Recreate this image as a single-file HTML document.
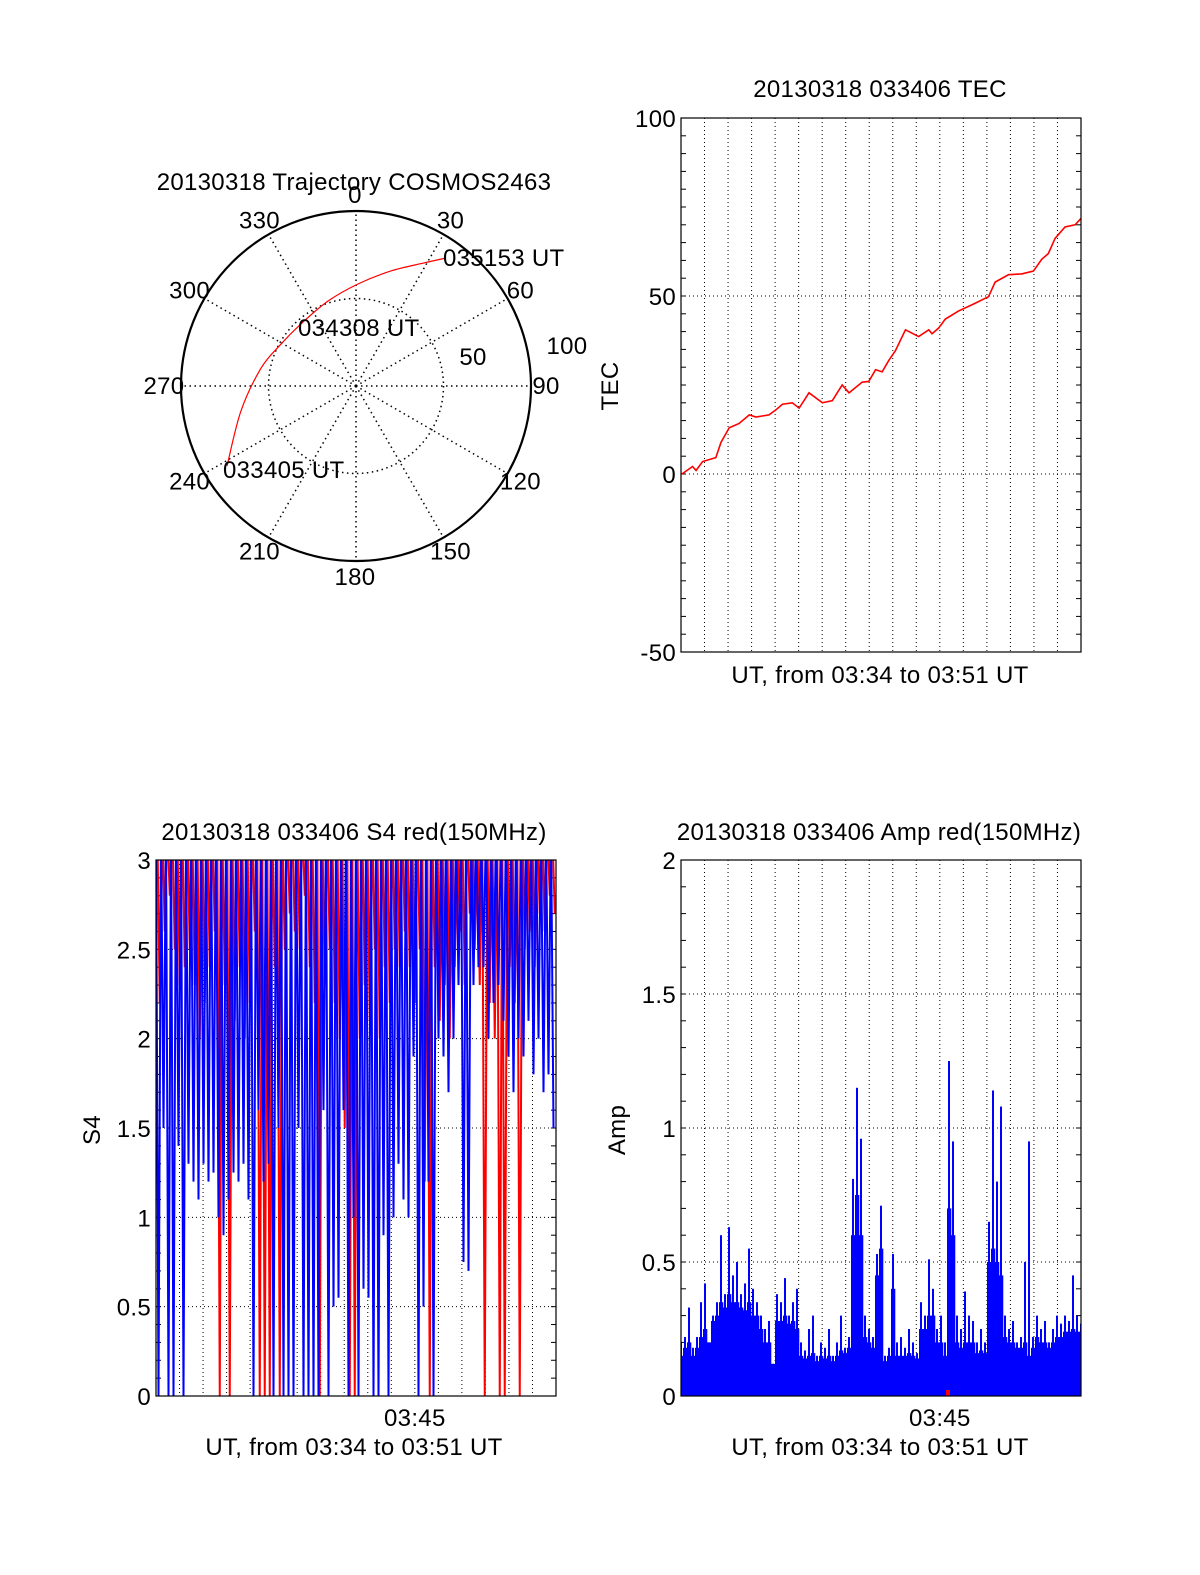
<!DOCTYPE html>
<html><head><meta charset="utf-8"><style>
html,body{margin:0;padding:0;background:#fff;}
svg{display:block;font-family:"Liberation Sans",Arial,sans-serif;}
text{fill:#000;font-size:24px;letter-spacing:0.3px;}
</style></head><body>
<svg id="fig" width="1200" height="1575" viewBox="0 0 1200 1575" xmlns="http://www.w3.org/2000/svg">
<defs>
<clipPath id="c-s4"><rect x="156" y="860" width="400" height="536"/></clipPath>
<clipPath id="c-amp"><rect x="681" y="860" width="400" height="536"/></clipPath>
<clipPath id="c-tec"><rect x="681" y="118" width="400" height="534"/></clipPath>
</defs>
<g id="polar"></g>
<g id="tec"></g>
<g id="s4"></g>
<g id="amp"></g>
</svg>
<script>
// ---------- data ----------
const trajAz = [238.2, 257.7, 280.7, 299.2, 318.4, 341.8, 1.1, 16.9, 28.9, 35.1];
const trajR  = [86.7, 67.3, 55.2, 49.1, 47.4, 51.1, 58.3, 68.7, 80.3, 89.4];
const azLabels = ["0","30","60","90","120","150","180","210","240","270","300","330"];

const tecTime = [0.04,0.49,0.64,0.92,1.48,1.70,2.05,2.47,2.90,3.18,3.74,4.03,4.31,4.73,5.02,5.44,6.01,6.43,6.85,7.14,7.70,7.98,8.27,8.55,8.83,9.11,9.54,10.10,10.53,10.67,10.95,11.23,11.80,12.36,13.07,13.35,13.92,14.48,14.98,15.33,15.61,15.90,16.32,16.75,17.0];
const tecVal  = [0,2.1,1,3.5,4.6,8.9,13,14.2,16.6,16,16.6,18,19.6,20,18.5,22.8,20,20.6,25,22.8,25.8,26,29.3,28.7,31.9,34.6,40.5,38.6,40.5,39.4,41,43.5,45.8,47.5,49.8,53.9,56,56.2,57,60.3,61.9,66.2,69.4,70,71.8];
const tecTicks = [-50, 0, 50, 100];

const s4Blue = [
3.2,0, 3.2,1.5, 3.2,0, 3.2,0, 3.2,1.4, 3.2,0, 3.2,1.3, 3.2,1.2, 3.2,1.1, 3.2,1.3,
3.2,1.2, 3.2,1.25, 3.2,1.0, 3.2,0.9, 3.2,1.1, 3.2,1.25, 3.2,1.2, 3.2,1.3, 3.2,1.1, 3.2,0,
3.2,1.6, 3.2,1.2, 3.2,1.3, 3.2,0, 3.2,1.5, 3.2,0, 3.2,0, 3.2,0, 3.2,1.5, 3.2,0,
3.2,0, 3.2,0, 3.2,0, 3.2,1.6, 3.2,0, 3.2,0.5, 3.2,0.55, 3.2,1.6, 3.2,0, 3.2,1.0,
3.2,0, 3.2,0.6, 3.2,0.55, 3.2,0, 3.2,0, 3.2,0.9, 3.2,0, 3.2,1.0, 3.2,1.3, 3.2,1.1,
3.2,1.0, 3.2,1.9, 3.2,0, 3.2,0.5, 3.2,1.2, 3.2,0, 3.2,2.0, 3.2,1.9, 3.2,1.7, 3.2,2.0,
3.2,2.3, 3.2,0.75, 3.2,0.7, 3.2,2.3, 3.2,2.4, 3.2,2.4, 3.2,2.0, 3.2,2.2, 3.2,2.3, 3.2,2.1,
3.2,1.9, 3.2,1.7, 3.2,2.0, 3.2,1.9, 3.2,2.1, 3.2,1.8, 3.2,2.0, 3.2,1.7, 3.2,1.8, 3.2,1.5];
const s4Red = [
3.2,2.2, 3.2,2.6, 3.2,2.8, 3.2,2.5, 3.2,2.3, 3.2,2.4, 3.2,2.5, 3.2,2.3, 3.2,2.0, 3.2,2.2,
3.2,2.4, 3.2,2.6, 3.2,0, 3.2,2.3, 3.2,0, 3.2,2.1, 3.2,2.4, 3.2,2.0, 3.2,2.2, 3.2,2.6,
3.2,0, 3.2,0, 3.2,0, 3.2,2.4, 3.2,0, 3.2,2.5, 3.2,2.7, 3.2,2.6, 3.2,2.5, 3.2,2.8,
3.2,2.4, 3.2,2.2, 3.2,0, 3.2,2.3, 3.2,2.5, 3.2,2.2, 3.2,2.0, 3.2,1.5, 3.2,0, 3.2,0,
3.2,2.0, 3.2,2.3, 3.2,2.1, 3.2,2.5, 3.2,2.0, 3.2,2.4, 3.2,2.2, 3.2,2.5, 3.2,2.4, 3.2,2.6,
3.2,2.4, 3.2,2.2, 3.2,2.5, 3.2,1.2, 3.2,0, 3.2,2.4, 3.2,2.1, 3.2,2.3, 3.2,2.0, 3.2,2.4,
3.2,2.6, 3.2,2.3, 3.2,2.7, 3.2,2.5, 3.2,2.3, 3.2,0, 3.2,2.2, 3.2,2.0, 3.2,0, 3.2,0,
3.2,2.4, 3.2,2.2, 3.2,0, 3.2,2.5, 3.2,2.6, 3.2,2.4, 3.2,2.7, 3.2,2.6, 3.2,2.8, 3.2,2.7];
const s4Ticks = [0, 0.5, 1, 1.5, 2, 2.5, 3];

const ampVal = [0.2,0.22,0.33,0.18,0.22,0.35,0.42,0.2,0.3,0.35,0.6,0.38,0.63,0.45,0.5,0.38,0.42,0.55,0.4,0.35,
0.3,0.25,0.28,0.12,0.38,0.35,0.44,0.3,0.35,0.4,0.2,0.17,0.25,0.3,0.15,0.2,0.18,0.25,0.15,0.2,
0.3,0.18,0.22,0.81,1.15,0.96,0.3,0.25,0.22,0.53,0.71,0.15,0.18,0.53,0.2,0.22,0.18,0.25,0.2,0.16,
0.35,0.3,0.51,0.4,0.25,0.3,0.2,1.25,0.95,0.3,0.25,0.39,0.3,0.28,0.2,0.25,0.2,0.65,1.14,0.8,
1.08,0.3,0.25,0.28,0.2,0.22,0.5,0.95,0.22,0.3,0.25,0.28,0.2,0.25,0.3,0.27,0.3,0.28,0.45,0.3,0.27];
const ampBase = [0.15,0.18,0.2,0.15,0.18,0.22,0.25,0.2,0.28,0.3,0.35,0.33,0.38,0.35,0.35,0.33,0.32,0.35,0.3,0.3,
0.25,0.2,0.2,0.12,0.28,0.28,0.3,0.27,0.28,0.25,0.15,0.14,0.15,0.16,0.13,0.15,0.14,0.15,0.13,0.15,
0.17,0.16,0.18,0.6,0.75,0.6,0.22,0.2,0.18,0.45,0.55,0.13,0.15,0.4,0.15,0.15,0.15,0.16,0.15,0.14,
0.25,0.25,0.3,0.3,0.2,0.2,0.15,0.7,0.6,0.2,0.18,0.2,0.2,0.2,0.16,0.17,0.16,0.5,0.55,0.5,
0.45,0.22,0.2,0.2,0.18,0.18,0.2,0.15,0.18,0.22,0.2,0.2,0.18,0.2,0.22,0.22,0.24,0.24,0.25,0.24,0.24];
const ampTicks = [0, 0.5, 1, 1.5, 2];
const minutes = [1,2,3,4,5,6,7,8,9,10,11,12,13,14,15,16];

// ---------- helpers ----------
const NS = "http://www.w3.org/2000/svg";
function el(parent, tag, attrs, txt) {
  const e = document.createElementNS(NS, tag);
  for (const k in attrs) e.setAttribute(k, attrs[k]);
  if (txt !== undefined) e.textContent = txt;
  parent.appendChild(e);
  return e;
}
const TMAX = 17;

function frame(g, x0, y0, w, h, ymin, ymax, ticks, gridYs, minorStep) {
  const sy = v => y0 + h - (v - ymin) / (ymax - ymin) * h;
  const sx = t => x0 + t / TMAX * w;
  minutes.forEach(m => {
    const gl = el(g, "line", {x1: sx(m), x2: sx(m), y1: y0, y2: y0 + h, stroke: "#000", "stroke-width": 1, "stroke-dasharray": "1,3"});
    
    
  });
  gridYs.forEach(v => {
    const gl = el(g, "line", {x1: x0, x2: x0 + w, y1: sy(v), y2: sy(v), stroke: "#000", "stroke-width": 1, "stroke-dasharray": "1,3"});
    
    
  });
  const n = Math.round((ymax - ymin) / minorStep);
  for (let i = 1; i < n; i++) {
    const v = ymin + i * minorStep, y = sy(v);
    const t1 = el(g, "line", {x1: x0, x2: x0 + 5, y1: y, y2: y, stroke: "#000", "stroke-width": 1});
    
    
    const t2 = el(g, "line", {x1: x0 + w - 5, x2: x0 + w, y1: y, y2: y, stroke: "#000", "stroke-width": 1});
    
    
  }
  ticks.forEach(v => {
    const lb = el(g, "text", {x: x0 - 5, y: sy(v) + 9, "text-anchor": "end"}, String(v));
    
    
  });
  return {sx, sy};
}
function border(g, x0, y0, w, h) {
  const b = el(g, "rect", {x: x0, y: y0, width: w, height: h, fill: "none", stroke: "#000", "stroke-width": 1.2});
  
  
}

// ---------- polar ----------
(function () {
  const g = document.getElementById("polar");
  const cx = 356, cy = 386, R = 175;
  const t = el(g, "text", {x: 354, y: 190, "text-anchor": "middle"}, "20130318 Trajectory COSMOS2463");
  
  
  for (let a = 0; a < 360; a += 30) {
    const r = a * Math.PI / 180;
    const sp = el(g, "line", {x1: cx, y1: cy, x2: cx + R * Math.sin(r), y2: cy - R * Math.cos(r), stroke: "#000", "stroke-width": 1.5, "stroke-dasharray": "1.5,3.5"});
    
    
  }
  const ic = el(g, "circle", {cx, cy, r: R * 0.5, fill: "none", stroke: "#000", "stroke-width": 1.5, "stroke-dasharray": "1.5,3.5"});
  
  
  const oc = el(g, "circle", {cx, cy, r: R, fill: "none", stroke: "#000", "stroke-width": 2.2});
  
  
  const rr = R + 16;
  azLabels.forEach((lab, i) => {
    const a = i * 30 * Math.PI / 180;
    const tx = el(g, "text", {x: cx + rr * Math.sin(a) - 1, y: cy - rr * Math.cos(a) + 8, "text-anchor": "middle"}, lab);
    
    
  });
  const l100 = el(g, "text", {x: 567, y: 354, "text-anchor": "middle"}, "100");
  
  
  const l50 = el(g, "text", {x: 473, y: 365, "text-anchor": "middle"}, "50");
  
  
  const pts = trajAz.map((az, i) => {
    const a = az * Math.PI / 180, r = trajR[i] / 100 * R;
    return [cx + r * Math.sin(a), cy - r * Math.cos(a)];
  });
  let d = "M" + pts[0][0] + "," + pts[0][1];
  for (let i = 1; i < pts.length; i++) {
    const p0 = pts[Math.max(0, i - 2)], p1 = pts[i - 1], p2 = pts[i], p3 = pts[Math.min(pts.length - 1, i + 1)];
    const c1 = [p1[0] + (p2[0] - p0[0]) / 6, p1[1] + (p2[1] - p0[1]) / 6];
    const c2 = [p2[0] - (p3[0] - p1[0]) / 6, p2[1] - (p3[1] - p1[1]) / 6];
    d += " C" + c1 + " " + c2 + " " + p2;
  }
  const tr = el(g, "path", {d, fill: "none", stroke: "#f00", "stroke-width": 1.2});
  
  
  [["035153 UT", 443, 266], ["034308 UT", 298, 336], ["033405 UT", 223, 478]].forEach(a => {
    const tx = el(g, "text", {x: a[1], y: a[2]}, a[0]);
    
    
  });
})();

// ---------- TEC ----------
(function () {
  const g = document.getElementById("tec");
  const x0 = 681, y0 = 118, w = 400, h = 534;
  const t = el(g, "text", {x: 880, y: 97, "text-anchor": "middle"}, "20130318 033406 TEC");
  
  
  const {sx, sy} = frame(g, x0, y0, w, h, -50, 100, tecTicks, [0, 50], 5);
  const pts = tecTime.map((tm, i) => sx(tm) + "," + sy(tecVal[i])).join(" ");
  const ln = el(g, "polyline", {points: pts, fill: "none", stroke: "#f00", "stroke-width": 1.6, "clip-path": "url(#c-tec)"});
  
  
  border(g, x0, y0, w, h);
  const yl = el(g, "text", {x: 0, y: 0, transform: "translate(618,386) rotate(-90)", "text-anchor": "middle"}, "TEC");
  
  
  const xl = el(g, "text", {x: 880, y: 683, "text-anchor": "middle"}, "UT, from 03:34 to 03:51 UT");
  
  
})();

// ---------- S4 ----------
(function () {
  const g = document.getElementById("s4");
  const x0 = 156, y0 = 860, w = 400, h = 536;
  const t = el(g, "text", {x: 354, y: 840, "text-anchor": "middle"}, "20130318 033406 S4 red(150MHz)");
  
  
  const {sx, sy} = frame(g, x0, y0, w, h, 0, 3, s4Ticks, [0.5, 1, 1.5, 2, 2.5], 0.1);
  const n = s4Red.length;
  const rp = s4Red.map((v, i) => sx((i + 0.5) / n * TMAX) + "," + sy(v)).join(" ");
  const rl = el(g, "polyline", {points: rp, fill: "none", stroke: "#f00", "stroke-width": 2, "clip-path": "url(#c-s4)"});
  
  
  const bp = s4Blue.map((v, i) => sx(i / s4Blue.length * TMAX) + "," + sy(v)).join(" ");
  const bl = el(g, "polyline", {points: bp, fill: "none", stroke: "#00f", "stroke-width": 2, "clip-path": "url(#c-s4)"});
  
  
  border(g, x0, y0, w, h);
  const yl = el(g, "text", {x: 0, y: 0, transform: "translate(100,1130) rotate(-90)", "text-anchor": "middle"}, "S4");
  
  
  const xt = el(g, "text", {x: sx(11), y: 1426, "text-anchor": "middle"}, "03:45");
  
  
  const xl = el(g, "text", {x: 354, y: 1455, "text-anchor": "middle"}, "UT, from 03:34 to 03:51 UT");
  
  
})();

// ---------- Amp ----------
(function () {
  const g = document.getElementById("amp");
  const x0 = 681, y0 = 860, w = 400, h = 536;
  const t = el(g, "text", {x: 879, y: 840, "text-anchor": "middle"}, "20130318 033406 Amp red(150MHz)");
  
  
  const {sx, sy} = frame(g, x0, y0, w, h, 0, 2, ampTicks, [0.5, 1, 1.5], 0.1);
  const n = ampVal.length;
  const bw = w / (n - 1);
  ampBase.forEach((v, i) => {
    const x = sx(i / (n - 1) * TMAX);
    const b = el(g, "rect", {x: x - bw / 2, y: sy(v), width: bw + 0.3, height: sy(0) - sy(v), fill: "#00f", "clip-path": "url(#c-amp)"});
    
    
  });
  ampVal.forEach((v, i) => {
    const x = sx(i / (n - 1) * TMAX);
    const b = el(g, "rect", {x: x - 1, y: sy(v), width: 2, height: sy(0) - sy(v), fill: "#00f", "clip-path": "url(#c-amp)"});
    
    
  });
  const rd = el(g, "rect", {x: 946, y: 1390, width: 4, height: 6, fill: "#f00"});
  
  
  border(g, x0, y0, w, h);
  const yl = el(g, "text", {x: 0, y: 0, transform: "translate(625,1130) rotate(-90)", "text-anchor": "middle"}, "Amp");
  
  
  const xt = el(g, "text", {x: sx(11), y: 1426, "text-anchor": "middle"}, "03:45");
  
  
  const xl = el(g, "text", {x: 880, y: 1455, "text-anchor": "middle"}, "UT, from 03:34 to 03:51 UT");
  
  
})();
</script>
</body></html>
